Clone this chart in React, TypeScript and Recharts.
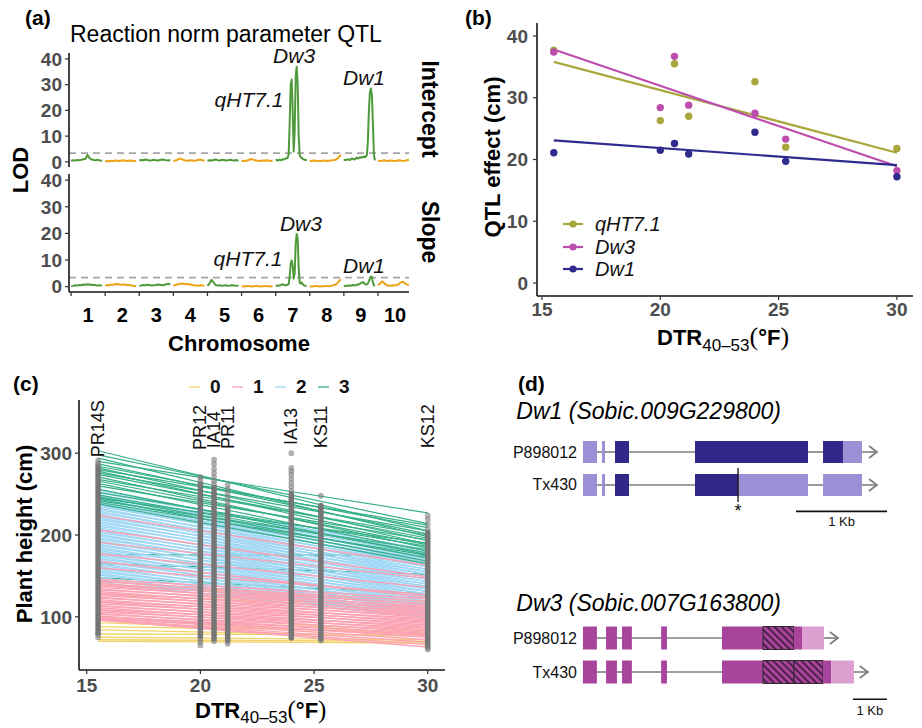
import React from 'react';
import { ComposedChart, Line, Scatter, XAxis, YAxis, ReferenceLine, ReferenceArea, Legend } from 'recharts';

const FONT = '"Liberation Sans", Arial, Helvetica, sans-serif';
const SERIF = '"Liberation Serif", "Times New Roman", serif';
const AXIS = '#151515';
const TICKTXT = '#4d4d4d';

// ---------------- Panel (a): LOD profiles ----------------
const chromosomes = ['1', '2', '3', '4', '5', '6', '7', '8', '9', '10'];
const interceptChr1 = [0.4, 0.6, 0.5, 0.7, 0.6, 0.8, 1.0, 1.2, 2.7, 1.4, 0.9, 0.7, 0.6, 0.8, 0.5, 0.4];
const interceptChr2 = [0.2, 0.3, 0.2, 0.4, 0.3, 0.5, 0.4, 0.3, 0.5, 0.6, 0.4, 0.3, 0.5, 0.4, 0.3, 0.2];
const interceptChr3 = [0.5, 0.7, 0.6, 0.9, 0.7, 0.5, 0.6, 0.8, 0.6, 0.5, 0.7, 0.9, 0.8, 0.6, 0.5, 0.7];
const interceptChr4 = [0.3, 0.5, 0.8, 1.3, 1.1, 0.7, 0.5, 0.4, 0.6, 0.5, 0.4, 0.5, 0.7, 0.9, 0.6, 0.4];
const interceptChr5 = [0.4, 0.6, 0.5, 0.7, 0.9, 0.6, 0.5, 0.8, 0.7, 0.5, 0.6, 0.8, 0.6, 0.5, 0.7, 0.4];
const interceptChr6 = [0.3, 0.4, 0.3, 0.6, 0.9, 1.1, 0.7, 0.5, 0.4, 0.3, 0.5, 0.4, 0.6, 0.5, 0.3, 0.4];
const interceptChr7 = [0.6, 0.8, 0.5, 0.7, 0.9, 0.6, 0.8, 1.0, 0.9, 1.1, 1.3, 1.4, 1.6, 3, 15, 30, 32, 20, 4, 12, 33, 37, 30, 10, 2.5, 1.8, 1.6, 1.2, 1.0, 0.8, 0.7, 0.9];
const interceptChr8 = [0.4, 0.3, 0.5, 0.4, 0.3, 0.2, 0.4, 0.5, 0.3, 0.4, 0.5, 0.6, 0.7, 1.0, 1.8, 2.7];
const interceptChr9 = [0.6, 0.8, 0.7, 0.9, 1.0, 0.8, 0.7, 1.1, 1.3, 1.2, 0.9, 1.0, 1.4, 1.6, 1.3, 1.5, 1.8, 1.6, 1.9, 1.7, 2.1, 1.8, 2.2, 2.6, 8, 20, 27, 28.5, 26, 15, 3, 0.6];
const interceptChr10 = [0.5, 0.3, 0.4, 0.6, 0.4, 0.3, 0.5, 0.4, 0.3, 0.4, 0.6, 0.5, 0.3, 0.4, 0.6, 0.8];

const slopeChr1 = [0.2, 0.3, 0.5, 0.4, 0.6, 0.5, 0.8, 0.7, 0.9, 0.8, 0.6, 0.7, 0.5, 0.4, 0.6, 0.3];
const slopeChr2 = [0.4, 0.6, 0.5, 0.8, 0.7, 0.9, 1.0, 0.8, 0.7, 0.9, 0.6, 0.7, 0.5, 0.4, 0.3, 0.2];
const slopeChr3 = [0.3, 0.4, 0.6, 0.5, 0.7, 0.6, 0.4, 0.5, 0.6, 0.8, 0.7, 0.5, 0.6, 0.9, 1.1, 0.8];
const slopeChr4 = [0.4, 0.6, 0.8, 1.0, 1.2, 1.1, 0.9, 1.0, 0.8, 0.6, 0.5, 0.4, 0.3, 0.5, 0.4, 0.3];
const slopeChr5 = [0.3, 1.2, 2.6, 1.5, 0.6, 0.4, 0.5, 0.3, 0.4, 0.5, 0.3, 0.4, 0.5, 0.4, 0.3, 0.4];
const slopeChr6 = [0.2, 0.1, 0.2, 0.3, 0.2, 0.1, 0.2, 0.3, 0.2, 0.1, 0.2, 0.2, 0.3, 0.2, 0.1, 0.2];
const slopeChr7 = [0.3, 0.4, 0.3, 0.5, 0.4, 0.6, 0.8, 0.9, 0.7, 0.6, 0.5, 0.6, 0.8, 1.0, 4.0, 8.5, 9.8, 8.0, 3.0, 5.0, 16, 19.8, 18, 7, 1.5, 1.2, 1.6, 1.0, 0.6, 0.4, 0.3, 0.4];
const slopeChr8 = [0.2, 0.1, 0.2, 0.3, 0.2, 0.1, 0.2, 0.2, 0.3, 0.2, 0.3, 0.4, 0.6, 1.0, 2.0, 2.8];
const slopeChr9 = [0.2, 0.3, 0.2, 0.4, 0.3, 0.5, 0.4, 0.3, 0.5, 0.6, 0.5, 0.4, 0.6, 0.8, 0.7, 0.9, 1.1, 1.3, 1.6, 1.7, 1.4, 1.0, 0.8, 0.9, 1.2, 2.0, 3.0, 3.8, 3.6, 1.5, 0.5, 0.3];
const slopeChr10 = [0.5, 1.2, 2.0, 1.3, 0.6, 0.4, 0.3, 0.5, 0.4, 0.6, 0.9, 1.6, 1.9, 1.2, 0.8, 0.7];

const interceptLOD = [interceptChr1, interceptChr2, interceptChr3, interceptChr4, interceptChr5, interceptChr6, interceptChr7, interceptChr8, interceptChr9, interceptChr10];
const slopeLOD = [slopeChr1, slopeChr2, slopeChr3, slopeChr4, slopeChr5, slopeChr6, slopeChr7, slopeChr8, slopeChr9, slopeChr10];
const lodThreshold = 3.4;
const lodTicks = [0, 10, 20, 30, 40];
const interceptPeaks = [
  { name: 'qHT7.1', pos: 5.22, lod: 24.1 },
  { name: 'Dw3', pos: 6.54, lod: 41.3 },
  { name: 'Dw1', pos: 8.59, lod: 32.6 },
];
const slopePeaks = [
  { name: 'qHT7.1', pos: 5.19, lod: 10.4 },
  { name: 'Dw3', pos: 6.74, lod: 23.9 },
  { name: 'Dw1', pos: 8.59, lod: 8.1 },
];

// ---------------- Panel (b): QTL effects ----------------
const envNames = ['PR14S', 'PR12', 'IA14', 'PR11', 'IA13', 'KS11', 'KS12'];
const envDTR = [15.5, 20.0, 20.6, 21.2, 24.0, 25.3, 30.0];
const qtlNames = ['qHT7.1', 'Dw3', 'Dw1'];
const qtlColors = ['#a9a63c', '#bd4dad', '#2f2a8d'];
const effectQHT71 = [37.7, 26.3, 35.5, 27.0, 32.6, 22.0, 21.8];
const effectDw3 = [37.4, 28.4, 36.7, 28.8, 27.5, 23.3, 18.2];
const effectDw1 = [21.1, 21.5, 22.6, 20.9, 24.4, 19.7, 17.2];
const fitQHT71 = [35.8, 21.1];
const fitDw3 = [37.8, 18.9];
const fitDw1 = [23.1, 19.1];
const effectTicks = [0, 10, 20, 30, 40];
const dtrTicks = [15, 20, 25, 30];

// ---------------- Panel (c): reaction norms ----------------
const alleleGroups = ['0', '1', '2', '3'];
const groupColors = ['#f2d36b', '#fba3b4', '#9fd7f5', '#35b088'];
// each pair: [height at PR14S (DTR 15.5), height at KS12 (DTR 30)]
const normsG0 = [[140, 118], [128, 110], [97, 84], [93, 79], [88, 82], [84, 76], [79, 78], [75, 72], [72, 70], [70, 68]];
const normsG1 = [
  [224, 163], [206, 149], [191, 147], [177, 136], [168, 124], [160, 127],
  [146, 122], [144, 115], [143, 119], [141, 111], [139, 116], [138, 108], [136, 113], [134, 105], [133, 110], [131, 102],
  [129, 107], [128, 99], [126, 104], [124, 96], [123, 101], [121, 93], [119, 98], [118, 90], [116, 95], [114, 87], [113, 92],
  [111, 84], [109, 89], [108, 81], [106, 86], [104, 78], [103, 83], [101, 75], [100, 80], [99, 72], [98, 77], [97, 69],
  [96, 66], [96, 63],
];
const normsG2 = [
  [255, 178], [252, 182], [249, 171], [247, 176], [245, 167], [243, 173], [241, 164], [239, 170], [237, 161], [235, 167],
  [233, 158], [231, 164], [229, 155], [227, 161], [225, 152], [223, 158], [221, 149], [219, 155], [217, 146], [215, 152],
  [213, 143], [211, 149], [209, 140], [207, 146], [205, 137], [203, 143], [201, 134], [199, 140], [197, 131], [195, 137],
  [193, 128], [191, 134], [189, 125], [187, 131], [185, 122], [183, 128], [181, 119], [179, 125], [177, 116], [175, 122],
  [173, 113], [171, 119], [169, 110], [167, 116], [165, 108], [163, 113], [161, 105], [159, 110], [157, 103], [155, 107],
  [153, 101], [151, 105], [148, 100], [145, 103], [142, 99],
];
const normsG3Under = [[176, 175], [165, 152], [148, 128]];
const normsG3 = [
  [303, 205], [298, 214], [294, 198], [290, 227], [287, 201], [284, 209], [282, 193], [280, 212], [278, 189], [276, 205], [274, 196],
  [271, 184], [268, 200], [266, 188], [263, 180], [260, 194], [256, 176], [252, 186], [249, 178], [247, 172], [245, 190], [244, 168],
  [242, 182], [240, 175], [238, 165],
];
const envDenseLow = [80, 76, 73, 72, 74, 73, 64];
const envDenseHigh = [283, 262, 258, 232, 250, 236, 203];
const envSparse = [
  [291, 288, 285, 79, 75],
  [271, 267, 263, 73, 69, 65],
  [292, 287, 281, 276, 271, 266, 262, 70],
  [261, 256, 251, 246, 241, 236, 70, 67],
  [300, 282, 278, 274, 269, 264, 259, 254],
  [248, 71],
  [224, 219, 213, 207, 62, 60],
];
const envLabelHeight = [295, 304, 306, 305, 310, 306, 306];
const heightTicks = [100, 200, 300];

// ---------------- Panel (d): gene models ----------------
const geneAlleles = ['P898012', 'Tx430'];
// [start kb, end kb, kind]
const dw1P898012Exons: [number, number, string][] = [[-1.231, -1.077, 'light'], [-1.022, -0.989, 'light'], [-0.879, -0.725, 'dark'], [0, 1.242, 'dark'], [1.407, 1.626, 'dark'], [1.626, 1.835, 'light']];
const dw1Tx430Exons: [number, number, string][] = [[-1.231, -1.077, 'light'], [-1.022, -0.989, 'light'], [-0.879, -0.725, 'dark'], [0, 0.473, 'dark'], [0.473, 1.242, 'light'], [1.407, 1.835, 'light']];
const dw1GeneEnds = [2.0, 2.0];
const dw1Mutation = 0.473;
const dw1ScaleBar = [1.11, 2.11];
const dw3P898012Exons: [number, number, string][] = [[-4.09, -3.68, 'dark'], [-3.41, -3.09, 'dark'], [-2.94, -2.65, 'dark'], [-1.79, -1.62, 'dark'], [0, 1.206, 'dark'], [1.206, 2.118, 'hatch'], [2.118, 2.353, 'dark'], [2.353, 3.0, 'light']];
const dw3Tx430Exons: [number, number, string][] = [[-4.09, -3.68, 'dark'], [-3.41, -3.09, 'dark'], [-2.94, -2.65, 'dark'], [-1.79, -1.62, 'dark'], [0, 1.206, 'dark'], [1.206, 2.118, 'hatch'], [2.118, 2.97, 'hatch'], [2.97, 3.21, 'dark'], [3.21, 3.88, 'light']];
const dw3GeneEnds = [3.41, 4.29];
const dw3ScaleBar = [3.85, 4.85];
const dw1Colors: Record<string, string> = { dark: '#312889', light: '#9b90d5' };
const dw3Colors: Record<string, string> = { dark: '#a8449c', light: '#dc9fd0', hatch: 'url(#dw3hatch)' };

// ---------------- helpers ----------------
const CHR_SPAN = 0.91;
function genomeRows(lods: number[][]) {
  const rows: any[] = [];
  lods.forEach((vals, c) => {
    vals.forEach((v, i) => {
      const row: any = { pos: c + (CHR_SPAN * i) / (vals.length - 1) };
      row[c % 2 === 0 ? 'odd' : 'even'] = v;
      rows.push(row);
    });
  });
  return rows;
}
const chrTicks = chromosomes.flatMap((_, i) => [i, i + 0.5]);

const tickText = { fontFamily: FONT, fontSize: 19, fontWeight: 700, fill: TICKTXT };
const axisLineStyle = { stroke: AXIS, strokeWidth: 1.6 };
const tickLineStyle = { stroke: '#333', strokeWidth: 1.2 };

const ChrTick = (props: any) => {
  const { x, y, payload } = props;
  const v = payload.value;
  if (Number.isInteger(v)) return <line x1={x} x2={x} y1={y} y2={y + 4} stroke="#333" strokeWidth={1.3} />;
  return (
    <text x={x} y={y + 23} textAnchor="middle" dominantBaseline="central" fontFamily={FONT} fontWeight={700} fontSize={20} fill="#000">
      {chromosomes[Math.floor(v)]}
    </text>
  );
};

const PeakLabel = (props: any) => (
  <text x={props.cx} y={props.cy} textAnchor="middle" dominantBaseline="central" fontFamily={FONT} fontStyle="italic" fontSize={21} fill="#111">
    {props.payload.name}
  </text>
);

function LodChart({ lods, peaks, top, height, margin, showX }: any) {
  const rows = genomeRows(lods);
  return (
    <div style={{ position: 'absolute', left: 0, top }}>
      <ComposedChart width={460} height={height} data={rows} margin={margin}>
        <XAxis type="number" dataKey="pos" domain={[-0.06, 9.91]} hide={!showX} ticks={chrTicks} interval={0}
          tickLine={false} tickSize={0} tickMargin={0} axisLine={axisLineStyle} height={38} tick={(p: any) => <ChrTick {...p} />} />
        <YAxis type="number" domain={[-2, 42.3]} ticks={lodTicks} interval={0} width={69} tick={tickText}
          tickSize={4} tickMargin={3} axisLine={axisLineStyle} tickLine={tickLineStyle} />
        <ReferenceLine y={lodThreshold} stroke="#a5a5a5" strokeDasharray="7 5" strokeWidth={1.6} />
        <Line dataKey="odd" stroke="#4f9a3b" strokeWidth={2} dot={false} connectNulls={false} isAnimationActive={false} strokeLinejoin="round" />
        <Line dataKey="even" stroke="#eba318" strokeWidth={2} dot={false} connectNulls={false} isAnimationActive={false} strokeLinejoin="round" />
        <Scatter data={peaks} dataKey="lod" shape={PeakLabel} isAnimationActive={false} />
      </ComposedChart>
    </div>
  );
}

// ---------------- Panel (b) ----------------
const qtlEffects = [effectQHT71, effectDw3, effectDw1];
const qtlFits = [fitQHT71, fitDw3, fitDw1];

const QtlLegend = () => (
  <div style={{ display: 'flex', flexDirection: 'column' }}>
    {qtlNames.map((n, i) => (
      <div key={n} style={{ display: 'flex', alignItems: 'center', height: 22.5 }}>
        <svg width={22} height={12} style={{ display: 'block' }}>
          <line x1={1} x2={21} y1={6} y2={6} stroke={qtlColors[i]} strokeWidth={2.2} />
          <circle cx={11} cy={6} r={3.6} fill={qtlColors[i]} />
        </svg>
        <span style={{ marginLeft: 11, fontStyle: 'italic', fontSize: 20, fontFamily: FONT, color: '#111', lineHeight: '22px' }}>{n}</span>
      </div>
    ))}
  </div>
);

function PanelB() {
  return (
    <div style={{ position: 'absolute', left: 460, top: 0 }}>
      <ComposedChart width={462} height={340} margin={{ top: 23, right: 9, bottom: 0, left: 0 }}>
        <XAxis type="number" dataKey="x" domain={[14.79, 30.68]} ticks={dtrTicks} interval={0} height={44}
          tick={tickText} tickSize={4} tickMargin={3} axisLine={axisLineStyle} tickLine={tickLineStyle} />
        <YAxis type="number" domain={[-2.1, 42.1]} ticks={effectTicks} interval={0} width={77}
          tick={tickText} tickSize={4} tickMargin={5} axisLine={axisLineStyle} tickLine={tickLineStyle} />
        {qtlNames.map((n, i) => (
          <Scatter key={'pt' + n} name={n} data={envDTR.map((x, k) => ({ x, y: qtlEffects[i][k] }))} dataKey="y" isAnimationActive={false}
            shape={(p: any) => <circle cx={p.cx} cy={p.cy} r={3.7} fill={qtlColors[i]} />} />
        ))}
        {qtlNames.map((n, i) => (
          <Line key={'fit' + n} data={[{ x: envDTR[0], y: qtlFits[i][0] }, { x: envDTR[envDTR.length - 1], y: qtlFits[i][1] }]}
            dataKey="y" stroke={qtlColors[i]} strokeWidth={2.2} dot={false} isAnimationActive={false} />
        ))}
        <Legend layout="horizontal" verticalAlign="middle" align="center" content={() => <QtlLegend />}
          wrapperStyle={{ left: 102, top: 213, width: 140 }} />
      </ComposedChart>
    </div>
  );
}

// ---------------- Panel (c) ----------------
const GroupLegend = () => (
  <div style={{ display: 'flex', alignItems: 'center', height: 24 }}>
    {alleleGroups.map((g, i) => (
      <div key={g} style={{ display: 'flex', alignItems: 'center', width: 43 }}>
        <svg width={11} height={10} style={{ display: 'block' }}>
          <line x1={0} x2={11} y1={5} y2={5} stroke={groupColors[i]} strokeWidth={1.3} />
        </svg>
        <span style={{ marginLeft: 10, fontWeight: 700, fontSize: 19, fontFamily: FONT, color: '#111', lineHeight: '22px' }}>{g}</span>
      </div>
    ))}
  </div>
);

const EnvLabel = (props: any) => (
  <text x={props.cx} y={props.cy} transform={`rotate(-90 ${props.cx} ${props.cy})`} textAnchor="start" dominantBaseline="central"
    fontFamily={FONT} fontSize={18} fill="#111">{props.payload.name}</text>
);

function normLines(norms: number[][], color: string, prefix: string, width: number) {
  return norms.map((n, k) => (
    <Line key={prefix + k} data={[{ dtr: envDTR[0], h: n[0] }, { dtr: envDTR[envDTR.length - 1], h: n[1] }]} dataKey="h"
      stroke={color} strokeWidth={width} dot={false} isAnimationActive={false} />
  ));
}

function PanelC() {
  const sparse = envDTR.flatMap((d, i) => envSparse[i].map((h) => ({ dtr: d, h })));
  const labels = envDTR.map((d, i) => ({ dtr: d, h: envLabelHeight[i], name: envNames[i] }));
  return (
    <div style={{ position: 'absolute', left: 0, top: 360 }}>
      <ComposedChart width={460} height={368} margin={{ top: 40, right: 15, bottom: 0, left: 0 }}>
        <XAxis type="number" dataKey="dtr" domain={[14.66, 30.76]} ticks={dtrTicks} interval={0} height={58}
          tick={tickText} tickSize={4} tickMargin={5} axisLine={axisLineStyle} tickLine={tickLineStyle} />
        <YAxis type="number" domain={[35, 365]} ticks={heightTicks} interval={0} width={79}
          tick={tickText} tickSize={4} tickMargin={3} axisLine={axisLineStyle} tickLine={tickLineStyle} />
        {normLines(normsG3Under, groupColors[3], 'g3u', 1.3)}
        {normLines(normsG0, groupColors[0], 'g0', 1.3)}
        {normLines(normsG2, groupColors[2], 'g2', 1.45)}
        {normLines(normsG1, groupColors[1], 'g1', 1.45)}
        {normLines(normsG3, groupColors[3], 'g3', 1.2)}
        {envDTR.map((d, i) => (
          <Line key={'col' + i} data={[{ dtr: d, h: envDenseLow[i] }, { dtr: d, h: envDenseHigh[i] }]} dataKey="h"
            stroke="#767676" strokeWidth={5.5} strokeLinecap="round" dot={false} isAnimationActive={false} />
        ))}
        <Scatter data={sparse} dataKey="h" isAnimationActive={false}
          shape={(p: any) => <circle cx={p.cx} cy={p.cy} r={2.9} fill="#7c7c7c" fillOpacity={0.6} />} />
        <Scatter data={labels} dataKey="h" isAnimationActive={false} shape={EnvLabel} />
        <Legend layout="horizontal" verticalAlign="middle" align="center" content={() => <GroupLegend />}
          wrapperStyle={{ left: 189, top: 15, width: 200 }} />
      </ComposedChart>
    </div>
  );
}

// ---------------- Panel (d) ----------------
const TextMark = (props: any) => {
  const p = props.payload;
  return (
    <text x={props.cx + (p.dx || 0)} y={props.cy + (p.dy || 0)} textAnchor={p.anchor || 'middle'} dominantBaseline="central"
      fontFamily={FONT} fontSize={p.size || 16} fill="#111">{p.name}</text>
  );
};
const ArrowHead = (props: any) => (
  <path d={`M${props.cx - 8},${props.cy - 6} L${props.cx},${props.cy} L${props.cx - 8},${props.cy + 6}`} fill="none" stroke="#7f7f7f" strokeWidth={1.8} />
);

function GeneChart({ top, height, xDomain, yDomain, exonSets, geneEnds, colors, half, scaleBar, mutation }: any) {
  const labelData = geneAlleles.map((a, r) => ({ x: exonSets[r][0][0], y: r, name: a, anchor: 'end', dx: -6, size: 16 }));
  const arrowData = geneEnds.map((e: number, r: number) => ({ x: e, y: r }));
  const kbData = [{ x: (scaleBar[0] + scaleBar[1]) / 2, y: 2.12, name: '1 Kb', size: 13 }];
  const starData = mutation !== undefined ? [{ x: mutation, y: 1.667, name: '*', size: 18, dy: 4 }] : [];
  const introns: any[] = [];
  exonSets.forEach((ex: [number, number, string][], r: number) => {
    for (let k = 1; k < ex.length; k++) {
      if (ex[k][0] > ex[k - 1][1]) introns.push({ r, a: ex[k - 1][1], b: ex[k][0] });
    }
    introns.push({ r, a: ex[ex.length - 1][1], b: geneEnds[r] });
  });
  return (
    <div style={{ position: 'absolute', left: 500, top }}>
      <ComposedChart width={422} height={height} margin={{ top: 0, right: 0, bottom: 0, left: 30 }}>
        <XAxis type="number" dataKey="x" domain={xDomain} hide />
        <YAxis type="number" domain={yDomain} hide reversed />
        {introns.map((s, k) => (
          <ReferenceLine key={'in' + k} segment={[{ x: s.a, y: s.r }, { x: s.b, y: s.r }]} stroke="#808080" strokeWidth={1.6} ifOverflow="visible" />
        ))}
        {exonSets.map((ex: [number, number, string][], r: number) =>
          ex.map((e, k) => (
            <ReferenceArea key={'ex' + r + '-' + k} x1={e[0]} x2={e[1]} y1={r - half} y2={r + half} fill={colors[e[2]]} fillOpacity={1}
              stroke={e[2] === 'hatch' ? '#2b2b2b' : 'none'} strokeWidth={1} ifOverflow="visible" />
          ))
        )}
        {mutation !== undefined && (
          <ReferenceLine segment={[{ x: mutation, y: 1 - 0.515 }, { x: mutation, y: 1 + 0.515 }]} stroke="#111" strokeWidth={1.3} ifOverflow="visible" />
        )}
        <ReferenceLine segment={[{ x: scaleBar[0], y: 1.8 }, { x: scaleBar[1], y: 1.8 }]} stroke="#111" strokeWidth={1.6} ifOverflow="visible" />
        <Scatter data={arrowData} dataKey="y" shape={ArrowHead} isAnimationActive={false} />
        <Scatter data={[...labelData, ...kbData, ...starData]} dataKey="y" shape={TextMark} isAnimationActive={false} />
      </ComposedChart>
    </div>
  );
}

export default function App() {
  return (
    <div style={{ position: 'absolute', left: 0, top: 0, width: 922, height: 728, background: '#fff', overflow: 'hidden', fontFamily: FONT }}>
      <svg width={0} height={0} style={{ position: 'absolute' }}>
        <defs>
          <pattern id="dw3hatch" patternUnits="userSpaceOnUse" width={5} height={5} patternTransform="rotate(-45)">
            <rect width={5} height={5} fill="#a8449c" />
            <line x1={1} y1={0} x2={1} y2={5} stroke="#3a1836" strokeWidth={1.6} />
          </pattern>
        </defs>
      </svg>

      <LodChart lods={interceptLOD} peaks={interceptPeaks} top={30} height={152} margin={{ top: 23, right: 51, bottom: 15, left: 0 }} showX={false} />
      <LodChart lods={slopeLOD} peaks={slopePeaks} top={170} height={160} margin={{ top: 4, right: 51, bottom: 0, left: 0 }} showX={true} />
      <PanelB />
      <PanelC />
      <GeneChart top={430} height={100} xDomain={[-1.8132, 2.4945]} yDomain={[-0.667, 2.364]}
        exonSets={[dw1P898012Exons, dw1Tx430Exons]} geneEnds={dw1GeneEnds} colors={dw1Colors} half={0.333}
        scaleBar={dw1ScaleBar} mutation={dw1Mutation} />
      <GeneChart top={580} height={148} xDomain={[-5.647, 5.882]} yDomain={[-1.706, 2.647]}
        exonSets={[dw3P898012Exons, dw3Tx430Exons]} geneEnds={dw3GeneEnds} colors={dw3Colors} half={0.338}
        scaleBar={dw3ScaleBar} />

      <svg width={922} height={728} style={{ position: 'absolute', left: 0, top: 0, pointerEvents: 'none' }} fontFamily={FONT} fill="#000">
        <text x={25} y={25} fontWeight={700} fontSize={21}>(a)</text>
        <text x={70} y={41.5} fontSize={23}>Reaction norm parameter QTL</text>
        <text transform="translate(430,109) rotate(90)" textAnchor="middle" dominantBaseline="central" fontWeight={700} fontSize={23}>Intercept</text>
        <text transform="translate(430,232) rotate(90)" textAnchor="middle" dominantBaseline="central" fontWeight={700} fontSize={23}>Slope</text>
        <text transform="translate(20,170) rotate(-90)" textAnchor="middle" dominantBaseline="central" fontWeight={700} fontSize={22}>LOD</text>
        <text x={239} y={343} textAnchor="middle" dominantBaseline="central" fontWeight={700} fontSize={22}>Chromosome</text>

        <text x={465} y={25} fontWeight={700} fontSize={21}>(b)</text>
        <text transform="translate(492,157) rotate(-90)" textAnchor="middle" dominantBaseline="central" fontWeight={700} fontSize={22}>QTL effect (cm)</text>
        <text x={657} y={345}>
          <tspan fontWeight={700} fontSize={22}>DTR</tspan>
          <tspan fontSize={17} dy={6}>40–53</tspan>
          <tspan dy={-6} fontFamily={SERIF} fontSize={26}>(</tspan>
          <tspan fontWeight={700} fontSize={22}>°F</tspan>
          <tspan fontFamily={SERIF} fontSize={26}>)</tspan>
        </text>

        <text x={13} y={391} fontWeight={700} fontSize={21}>(c)</text>
        <text transform="translate(24,534) rotate(-90)" textAnchor="middle" dominantBaseline="central" fontWeight={700} fontSize={22}>Plant height (cm)</text>
        <text x={195} y={718}>
          <tspan fontWeight={700} fontSize={22}>DTR</tspan>
          <tspan fontSize={17} dy={5}>40–53</tspan>
          <tspan dy={-5} fontFamily={SERIF} fontSize={25}>(</tspan>
          <tspan fontWeight={700} fontSize={22}>°F</tspan>
          <tspan fontFamily={SERIF} fontSize={25}>)</tspan>
        </text>

        <text x={518} y={391} fontWeight={700} fontSize={21}>(d)</text>
        <text x={781} y={419} textAnchor="end" fontStyle="italic" fontSize={23}>Dw1 (Sobic.009G229800)</text>
        <text x={781} y={611} textAnchor="end" fontStyle="italic" fontSize={23}>Dw3 (Sobic.007G163800)</text>
      </svg>
    </div>
  );
}
